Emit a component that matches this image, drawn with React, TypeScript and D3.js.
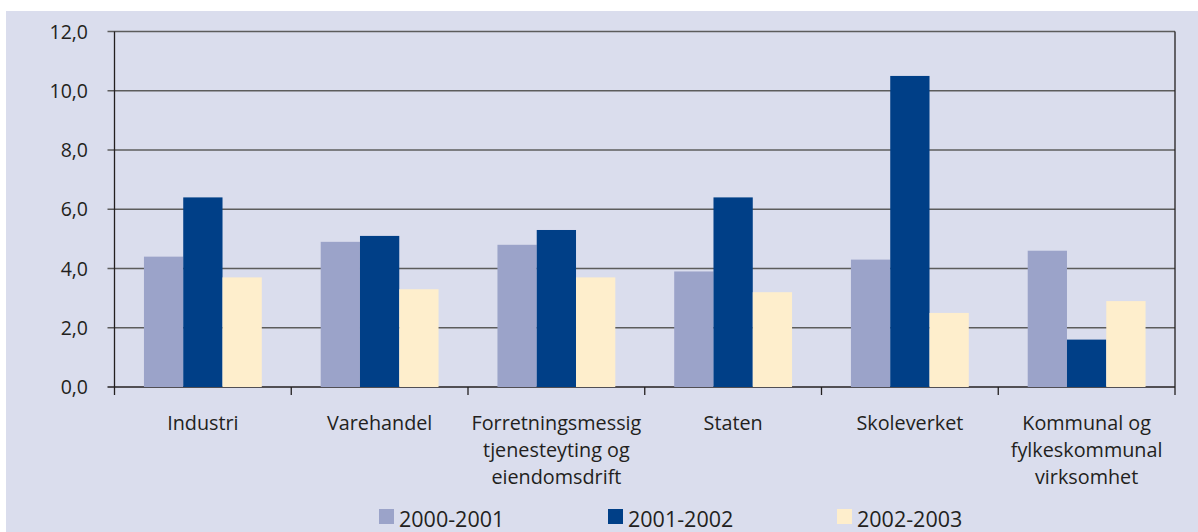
import React from 'react';
import * as d3 from 'd3';

// categories (line-broken as in the source) and series values
const categories = [
  ['Industri'],
  ['Varehandel'],
  ['Forretningsmessig', 'tjenesteyting og', 'eiendomsdrift'],
  ['Staten'],
  ['Skoleverket'],
  ['Kommunal og', 'fylkeskommunal', 'virksomhet'],
];
const seriesNames = ['2000-2001', '2001-2002', '2002-2003'];
const values2000 = [4.4, 4.9, 4.8, 3.9, 4.3, 4.6];
const values2001 = [6.4, 5.1, 5.3, 6.4, 10.5, 1.6];
const values2002 = [3.7, 3.3, 3.7, 3.2, 2.5, 2.9];
const yTicks = [0, 2, 4, 6, 8, 10, 12];

const colors = ['#9BA3C9', '#003F87', '#FEEECC'];
const W = 1198;
const H = 532;
const margin = { top: 31.5, right: 23, bottom: 145, left: 114.5 };
const font = '"Open Sans", "Noto Sans", sans-serif';
const ink = '#231F20';

export default function App() {
  const series = [values2000, values2001, values2002];
  const keys = categories.map((c) => c.join(' '));

  const x0 = d3.scaleBand<string>()
    .domain(keys)
    .range([margin.left, W - margin.right])
    .padding(0);
  const x1 = d3.scaleBand<string>()
    .domain(seriesNames)
    .range([0, x0.bandwidth()])
    .paddingInner(0)
    .paddingOuter(0.75);
  const y = d3.scaleLinear().domain([0, 12]).range([H - margin.bottom, margin.top]);

  const fmt = (v: number) => v.toFixed(1).replace('.', ',');
  const x0Left = margin.left;
  const x0Right = W - margin.right;
  const bottom = y(0);

  // legend layout (left x of each swatch)
  const legendX = [379, 608, 837];

  return (
    <svg width={W} height={H} style={{ position: 'absolute', left: 0, top: 0, display: 'block' }}>
      <rect x={6} y={11} width={W - 6} height={H - 11} fill="#DADDED" />

      {/* gridlines + y ticks */}
      {yTicks.map((t) => (
        <g key={t}>
          <line x1={x0Left - 7} x2={x0Right} y1={y(t)} y2={y(t)} stroke={t === 0 ? ink : '#5c5c5c'} strokeWidth={t === 0 ? 1.4 : 1.3} />
          <text x={88} y={y(t)} dy="0.36em" textAnchor="end" fontFamily={font} fontSize={19.5} fill={ink}>
            {fmt(t)}
          </text>
        </g>
      ))}

      {/* bars */}
      {keys.map((k, i) => (
        <g key={k} transform={`translate(${x0(k)},0)`}>
          {seriesNames.map((s, j) => (
            <rect
              key={s}
              x={x1(s)}
              y={y(series[j][i])}
              width={x1.bandwidth()}
              height={bottom - y(series[j][i])}
              fill={colors[j]}
            />
          ))}
        </g>
      ))}

      {/* frame: left and right verticals, x ticks */}
      <line x1={x0Left} x2={x0Left} y1={y(12)} y2={bottom + 8} stroke={ink} strokeWidth={1.3} />
      <line x1={x0Right} x2={x0Right} y1={y(12)} y2={bottom + 8} stroke={ink} strokeWidth={1.3} />
      {keys.slice(1).map((k) => (
        <line key={k} x1={x0(k)} x2={x0(k)} y1={bottom} y2={bottom + 8} stroke={ink} strokeWidth={1.3} />
      ))}

      {/* category labels, one text per line */}
      {categories.map((lines, i) =>
        lines.map((l, li) => (
          <text
            key={keys[i] + li}
            x={(x0(keys[i]) as number) + x0.bandwidth() / 2}
            y={429.5 + li * 27}
            textAnchor="middle"
            fontFamily={font}
            fontSize={19.8}
            fill={ink}
          >
            {l}
          </text>
        ))
      )}

      {/* legend */}
      {seriesNames.map((s, j) => (
        <g key={s}>
          <rect x={legendX[j]} y={509} width={15} height={15} fill={colors[j]} />
          <text x={legendX[j] + 20} y={526.5} fontFamily={font} fontSize={21.5} fill={ink}>
            {s}
          </text>
        </g>
      ))}
    </svg>
  );
}
